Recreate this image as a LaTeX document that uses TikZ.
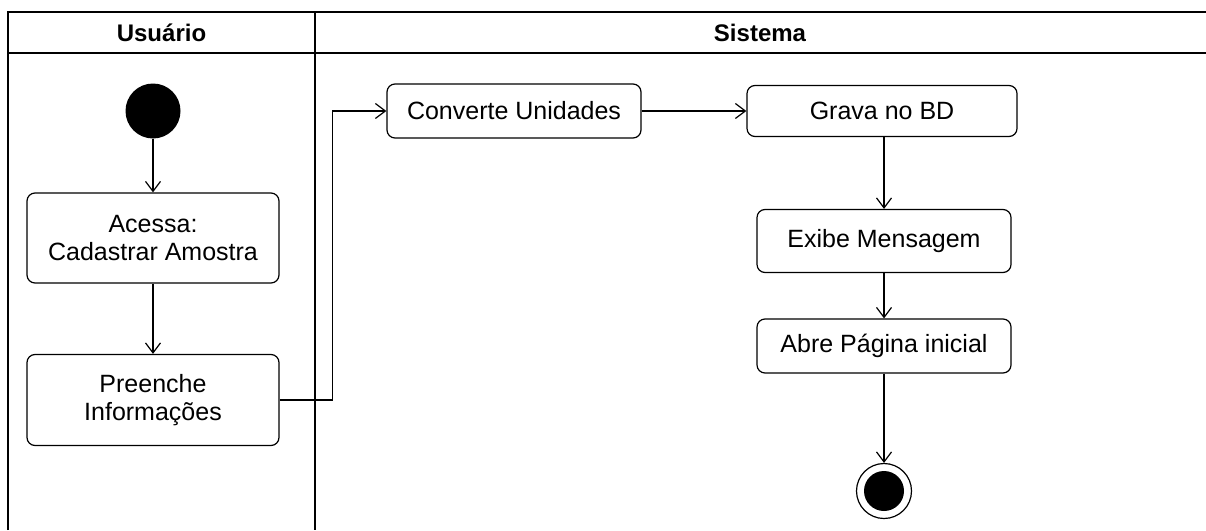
\documentclass[tikz,border=0pt]{standalone}
\usepackage{fontspec}
\setmainfont{Liberation Sans}
\usetikzlibrary{arrows.meta}

\tikzset{
  acao/.style={draw, rounded corners=8pt, line width=1.2pt, align=center,
    inner sep=0pt, font=\fontsize{25}{28}\selectfont},
  fluxo/.style={line width=1.2pt, -{Straight Barb[length=10pt,width=15pt]}},
  raia/.style={line width=1.6pt}
}

\begin{document}
\begin{tikzpicture}[x=1pt,y=-1pt]
  \useasboundingbox (0,0) rectangle (1206,530);
  % raias
  \draw[raia] (8,530) -- (8,12) -- (1206,12);
  \draw[raia] (8,53) -- (1206,53);
  \draw[raia] (315,12) -- (315,530);
  \node[font=\fontsize{24}{28}\selectfont\bfseries] (usuario) at (161.5,33) {Usuário};
  \node[font=\fontsize{24}{28}\selectfont\bfseries] (sistema) at (760,33) {Sistema};

  % estados
  \node[circle, fill=black, minimum size=55pt, inner sep=0pt] (inicio) at (153,111) {};
  \node[acao, minimum width=252pt, minimum height=90pt] (acessa) at (153,238) {Acessa:\\Cadastrar Amostra};
  \node[acao, minimum width=252pt, minimum height=91pt] (preenche) at (153,400) {Preenche\\Informações};
  \node[acao, minimum width=254pt, minimum height=54pt] (converte) at (514,111) {Converte Unidades};
  \node[acao, minimum width=270pt, minimum height=51pt] (grava) at (882,111) {Grava no BD};
  \node[acao, minimum width=254pt, minimum height=63pt] (exibe) at (884,241) {Exibe Mensagem};
  \node[acao, minimum width=254pt, minimum height=54pt] (abre) at (884,346) {Abre Página inicial};
  \node[circle, draw, line width=1.2pt, minimum size=55pt, inner sep=0pt] (fim) at (884,491) {};
  \fill (fim.center) circle (20pt);

  % transicoes
  \draw[fluxo] (inicio) -- (acessa);
  \draw[fluxo] (acessa) -- (preenche);
  \draw[fluxo] (preenche.east) -- ++(53,0) |- (converte.west);
  \draw[fluxo] (converte) -- (grava);
  \draw[fluxo] (grava.south -| exibe) -- (exibe);
  \draw[fluxo] (exibe) -- (abre);
  \draw[fluxo] (abre) -- (fim);
\end{tikzpicture}
\end{document}
